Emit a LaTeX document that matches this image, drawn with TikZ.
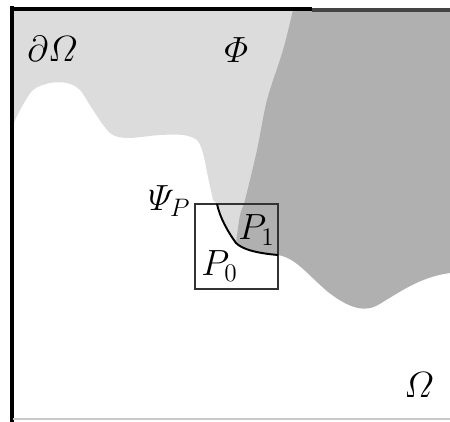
\documentclass[tikz,border=0pt]{standalone}
\usepackage{amsmath}
\definecolor{regLight}{HTML}{DCDCDC}
\definecolor{regDark}{HTML}{B0B0B0}
\definecolor{edgeGray}{HTML}{444444}
\definecolor{edgeFaint}{HTML}{C8C8C8}
\definecolor{boxGray}{HTML}{333333}

\begin{document}
\begin{tikzpicture}[x=0.02cm,y=-0.02cm,
    lbl/.style={inner sep=0pt,anchor=base west,font=\fontsize{22}{26}\selectfont}]
  \useasboundingbox[fill=white] (0,0) rectangle (450,422);
  % light region above the domain
  \fill[regLight] (12,10) -- (450,10) -- (450,273) -- (278,255)
    .. controls (255,253) and (242,249) .. (236,243)
    .. controls (228,232) and (220,218) .. (217,204)
    -- plot[smooth] coordinates {(213,200) (208,177) (203,153) (197,140)
      (183,135) (160,135) (127,138) (110,133) (93,110) (80,90) (67,83)
      (50,83) (33,90) (20,110) (12,127)} -- cycle;
  % dark region
  \fill[regDark] plot[smooth] coordinates {(236,243) (240,215) (245,200)
      (257,150) (267,100) (283,50) (293,10)}
    -- (450,10) -- (450,273)
    .. controls (420,277) and (400,292) .. (378,305)
    .. controls (362,314) and (345,305) .. (328,292)
    .. controls (308,275) and (296,258) .. (278,255)
    .. controls (255,253) and (242,249) .. (236,243) -- cycle;
  % frame
  \draw[line width=2.4pt,line cap=rect] (12,8) -- (12,422);
  \draw[line width=2.6pt] (11,9) -- (312,9);
  \draw[edgeGray,line width=2.2pt] (312,10) -- (450,10);
  \draw[edgeFaint,line width=1.6pt] (13,419) -- (450,419);
  % zoom window
  \draw[boxGray,line width=1.6pt] (195,204) rectangle (278,289);
  \draw[line width=1.1pt] (217,204) .. controls (220,218) and (228,232) .. (236,243)
    .. controls (242,249) and (255,253) .. (278,255);
  % labels
  \node[lbl] (dOmega) at (27,62) {$\partial\varOmega$};
  \node[lbl] (Phi) at (224,63) {$\varPhi$};
  \node[lbl] (PsiP) at (148,211) {$\varPsi_{P}$};
  \node[lbl] (P1) at (238,240) {$P_{1}$};
  \node[lbl] (P0) at (201,276) {$P_{0}$};
  \node[lbl] (Omega) at (404,398) {$\varOmega$};
\end{tikzpicture}
\end{document}
